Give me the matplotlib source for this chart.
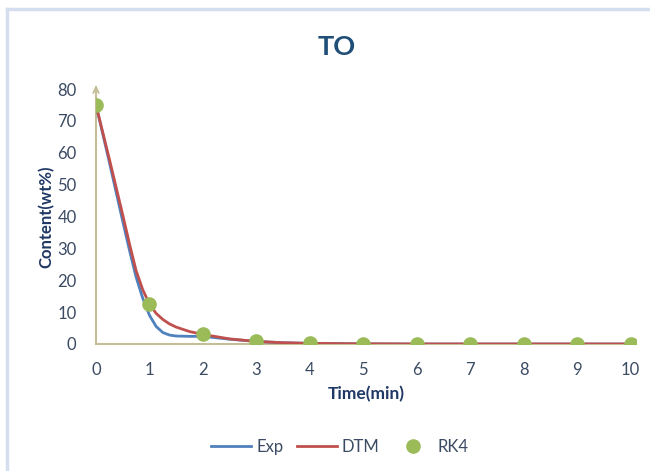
import matplotlib.pyplot as plt
from matplotlib.lines import Line2D

plt.rcParams['font.family'] = ['Lato', 'DejaVu Sans']

# curve samples (min, wt%)
t_curve = [0, 0.25, 0.5, 0.625, 0.75, 0.875, 1.0, 1.125, 1.25, 1.375, 1.5, 1.75, 2.0, 2.5, 3.0, 3.5, 4, 5, 6, 7, 8, 9, 10]
exp_vals = [75, 57, 38.5, 29.5, 21.0, 14.3, 9.0, 5.5, 3.6, 2.8, 2.5, 2.4, 2.4, 1.5, 0.8, 0.4, 0.2, 0.05, 0, 0, 0, 0, 0]
dtm_vals = [75, 58, 40.5, 31.5, 23.0, 17.0, 12.5, 9.6, 7.7, 6.3, 5.3, 3.9, 3.0, 1.6, 0.8, 0.4, 0.2, 0.05, 0, 0, 0, 0, 0]

# RK4 points
t_rk4 = [0, 1, 2, 3, 4, 5, 6, 7, 8, 9, 10]
rk4_vals = [75, 12.5, 3.0, 0.8, 0.2, 0.05, 0, 0, 0, 0, 0]

blue = "#4F81BD"
red = "#C0504D"
green = "#9BBB59"
axis_col = "#C4BD97"
tick_col = "#3B4B63"
label_col = "#1F3864"

fig = plt.figure(figsize=(6.5, 4.71), dpi=100)
ax = fig.add_axes([96 / 650, 1 - 344 / 471, (636 - 96) / 650, (344 - 89) / 471])

ax.plot(t_curve, exp_vals, color=blue, lw=2.0, label="Exp", zorder=3)
ax.plot(t_curve, dtm_vals, color=red, lw=2.0, label="DTM", zorder=4)
ax.plot(t_rk4, rk4_vals, "o", color=green, ms=9.5, label="RK4", zorder=5)

ax.set_xlim(0, 10.1)
ax.set_ylim(0, 80)
ax.set_xticks(range(0, 11))
ax.set_yticks(range(0, 81, 10))
ax.tick_params(length=0, labelsize=12, labelcolor=tick_col)
ax.tick_params(axis="y", pad=14)
ax.tick_params(axis="x", pad=13)

for s in ["top", "right"]:
    ax.spines[s].set_visible(False)
for s in ["left", "bottom"]:
    ax.spines[s].set_color(axis_col)
    ax.spines[s].set_linewidth(1.5)
ax.spines["left"].set_bounds(0, 80)

# arrow at the top of the y axis
ax.annotate("", xy=(0, 82), xytext=(0, 79.5), xycoords="data",
            arrowprops=dict(arrowstyle="->", color=axis_col, lw=1.3),
            annotation_clip=False)

ax.set_xlabel("Time(min)", fontsize=12.5, fontweight="bold", color=label_col, labelpad=6)
ax.set_ylabel("Content(wt%)", fontsize=12, fontweight="bold", color=label_col, labelpad=2)
fig.text(337 / 650, 1 - 47 / 471, "TO", ha="center", va="center",
         fontsize=19.5, fontweight="bold", color="#1F4E79")

ax.legend(loc="center", bbox_to_anchor=(340 / 650, 1 - 447 / 471),
          bbox_transform=fig.transFigure, ncol=3, frameon=False,
          fontsize=12, labelcolor=tick_col, handlelength=2.4,
          handletextpad=0.3, columnspacing=0.8)

# outer frame (left and top edges visible)
fig.add_artist(Line2D([7 / 650, 7 / 650], [0, 1 - 9 / 471], color="#D5DEEE", lw=2.5))
fig.add_artist(Line2D([7 / 650, 1], [1 - 9 / 471, 1 - 9 / 471], color="#D5DEEE", lw=2.5))

fig.savefig("out.png", dpi=100)
